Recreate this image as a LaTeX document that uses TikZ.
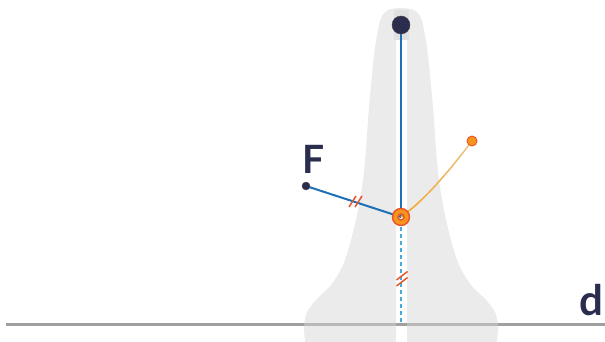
\documentclass[tikz,border=0pt]{standalone}
\usepackage{fontspec}
\setmainfont{Lato}
\usetikzlibrary{fadings,calc}
\definecolor{navy}{HTML}{2B2D4E}
\definecolor{lineblue}{HTML}{1D70B7}
\definecolor{dashblue}{HTML}{4AA8E0}
\definecolor{bellgray}{HTML}{D5D5D5}
\definecolor{basegray}{HTML}{A0A0A0}
\definecolor{tickred}{HTML}{E8542A}
\definecolor{ringorange}{HTML}{F7941D}
\definecolor{curveorange}{HTML}{F5A623}
\definecolor{curvetan}{HTML}{EAC48F}
\tikzset{
  bell/.style={fill=bellgray, fill opacity=0.48},
  baseline line/.style={draw=basegray, line width=3pt},
  bluebar/.style={draw=lineblue, line width=2pt},
  dashbar/.style={draw=dashblue, line width=2pt, dash pattern=on 4pt off 3pt},
  tickmark/.style={draw=tickred, line width=1.5pt},
  darkdot/.style={circle, fill=navy, draw=navy!80!brown, line width=0.4pt, inner sep=0pt},
  orangedot/.style={circle, fill=ringorange, draw=tickred, line width=0.9pt, inner sep=0pt, minimum size=10pt},
  lbl/.style={text=navy, font=\bfseries, inner sep=0pt}
}
\begin{document}
\begin{tikzpicture}[x=1pt,y=-1pt]
\useasboundingbox (0,0) rectangle (605,342);
% coordinates
\coordinate (pTop) at (401,25);
\coordinate (pF) at (306,186);
\coordinate (pR) at (401,217);
\coordinate (pO) at (472,141);
\coordinate (pD) at (401,227);
\coordinate (bL) at (6,324);
\coordinate (bR) at (605,324);
\coordinate (pBase) at (401,324);
% baseline
\draw[baseline line] (bL) -- (bR);
% bell
\fill[bell, even odd rule] plot[smooth] coordinates {(305,342) (304,326) (307,312) (316,300) (331,285) (343,265) (351,240) (358,210) (363,180) (366,150) (368,120) (371,85) (374,55) (377,35) (381,18) (388,10) (401,8) (414,10) (421,18) (425,35) (428,55) (431,85) (434,120) (436,150) (439,180) (444,210) (451,240) (459,265) (471,285) (486,300) (495,312) (498,326) (497,342)} -- cycle
  (396,40) rectangle (407,343);
\fill[bell] (394,10) rectangle (409,40);
% connectors
\draw[bluebar] (pTop) -- (pR);
\draw[bluebar] (pF) -- (pR);
\draw[dashbar] (pD) -- (pBase);
\draw[curvetan, line width=1.5pt] (pR) .. controls (425,200) and (450,170) .. (pO);
\draw[curveorange, line width=1.5pt, path fading=east] (pR) .. controls (425,200) and (450,170) .. (pO);
% ticks
\draw[tickmark] (349,207) -- (356,196);
\draw[tickmark] (355,207) -- (362,196);
\draw[tickmark] (396.5,280) -- (407.5,271.5);
\draw[tickmark] (396.5,286) -- (407.5,277.5);
% ring
\path[fill=ringorange, draw=tickred, line width=1.4pt, even odd rule] (pR) circle[radius=8.5pt] (pR) circle[radius=3pt];
% dots
\node[darkdot, minimum size=18pt] (top) at (pTop) {};
\node[darkdot, minimum size=8pt] (fdot) at (pF) {};
\node[orangedot] (odot) at (pO) {};
% labels
\node[lbl, anchor=base, font=\fontsize{39}{39}\selectfont\bfseries] (F) at (313.5,173) {F};
\node[lbl, anchor=base, font=\fontsize{42}{42}\selectfont\bfseries] (d) at (591.5,315) {d};
\end{tikzpicture}
\end{document}
